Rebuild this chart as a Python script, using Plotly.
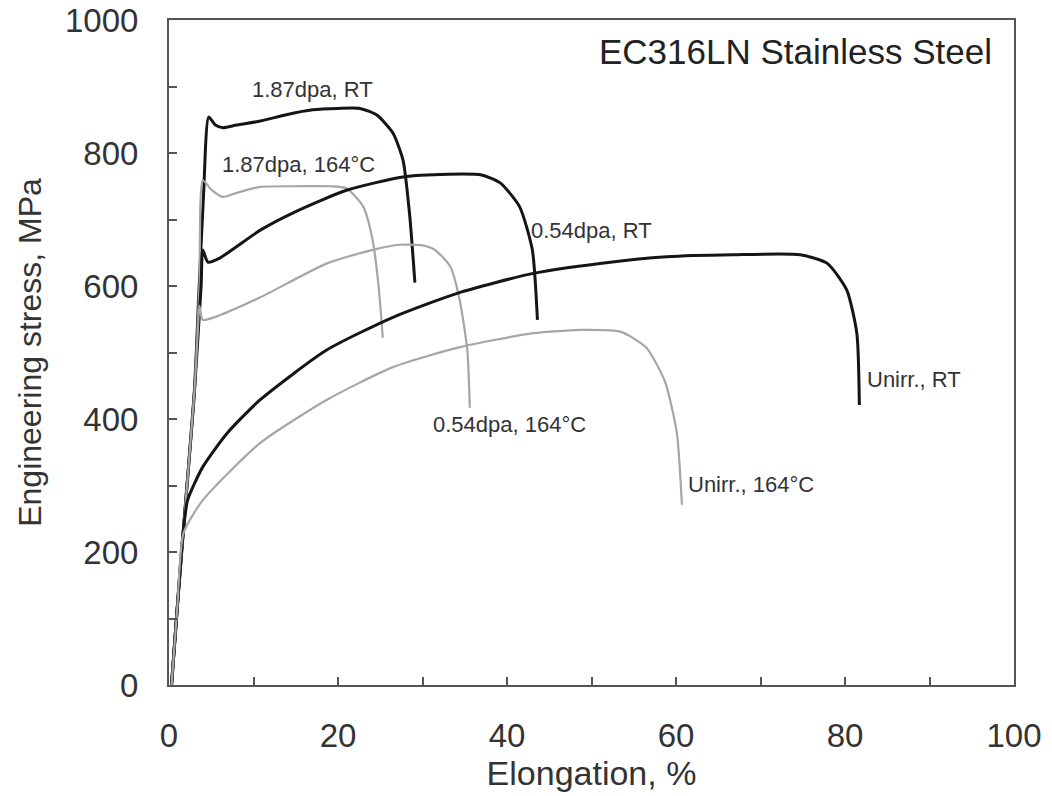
import plotly.graph_objects as go

# ---- data (elongation %, engineering stress MPa) ----
rt187_x = [0.3, 1.0, 2.0, 3.0, 3.5, 4.1, 4.7, 5.5, 6.4, 8.0, 10.8, 14.0, 17.0, 20.0, 22.6, 24.6, 26.5, 27.7, 28.5, 29.1]
rt187_y = [0, 120, 280, 440, 580, 740, 854, 842, 838, 842, 848, 858, 865, 867, 867, 857, 830, 789, 704, 605]

t187_x = [0.3, 1.0, 2.0, 3.0, 3.6, 4.0, 5.0, 6.4, 8.0, 10.8, 15.0, 19.0, 21.0, 23.0, 24.1, 24.8, 25.3]
t187_y = [0, 120, 280, 440, 600, 759, 745, 734, 740, 749, 750, 750, 747, 719, 669, 600, 522]

rt054_x = [0.3, 1.0, 2.0, 3.0, 3.8, 4.0, 4.6, 6.0, 10.8, 15.0, 21.0, 27.7, 33.0, 37.0, 39.2, 41.5, 43.0, 43.6]
rt054_y = [0, 120, 280, 440, 600, 654, 636, 642, 684, 712, 744, 764, 768, 767, 755, 719, 654, 549]

t054_x = [0.3, 1.0, 2.0, 3.0, 3.4, 3.6, 4.0, 6.0, 10.8, 18.7, 24.0, 27.3, 30.0, 31.5, 33.3, 34.4, 35.3, 35.6]
t054_y = [0, 120, 280, 440, 530, 570, 549, 556, 583, 634, 654, 662, 661, 654, 629, 579, 504, 417]

rtun_x = [0.3, 1.0, 1.6, 2.2, 4.0, 6.9, 10.8, 18.7, 26.5, 34.1, 43.1, 51.0, 58.9, 66.7, 74.7, 77.9, 80.2, 81.4, 81.7]
rtun_y = [0, 120, 220, 278, 328, 379, 429, 504, 553, 589, 619, 634, 644, 647, 647, 634, 594, 529, 421]

tun_x = [0.3, 1.0, 1.7, 4.0, 10.8, 18.7, 26.5, 34.4, 43.1, 49.0, 53.5, 56.5, 58.7, 60.1, 60.7]
tun_y = [0, 120, 228, 278, 364, 429, 478, 508, 529, 534, 531, 507, 456, 379, 271]

labels = ["1.87dpa, RT", "1.87dpa, 164°C", "0.54dpa, RT", "0.54dpa, 164°C", "Unirr., RT", "Unirr., 164°C"]
label_x = [17.0, 15.3, 42.6, 31.0, 82.4, 61.2]
label_y = [895, 782, 684, 391, 459, 301]
label_anchor = ["center", "center", "left", "left", "left", "left"]

x_ticks = [0, 20, 40, 60, 80, 100]
y_ticks = [0, 200, 400, 600, 800, 1000]

BLACK = "#151515"
GRAY = "#a6a6a6"
FONT = "Liberation Sans, Arial, sans-serif"

series = [
    (rt187_x, rt187_y, BLACK, 3),
    (t187_x, t187_y, GRAY, 2.2),
    (rt054_x, rt054_y, BLACK, 3),
    (t054_x, t054_y, GRAY, 2.2),
    (rtun_x, rtun_y, BLACK, 3),
    (tun_x, tun_y, GRAY, 2.2),
]

fig = go.Figure()
for (xs, ys, col, w), name in zip(series, labels):
    fig.add_trace(go.Scatter(x=xs, y=ys, mode="lines", name=name,
                             line=dict(color=col, width=w, shape="spline", smoothing=0.6),
                             showlegend=False))

for t, xv, yv, anc in zip(labels, label_x, label_y, label_anchor):
    fig.add_annotation(x=xv, y=yv, text=t, showarrow=False, xanchor=anc, yanchor="middle",
                       font=dict(family=FONT, size=22, color="#333333"))

fig.add_annotation(x=97.6, y=952, text="EC316LN Stainless Steel", showarrow=False,
                   xanchor="right", yanchor="middle",
                   font=dict(family=FONT, size=35, color="#222222"))

axis_common = dict(showline=True, linecolor="#555555", linewidth=2, mirror=True,
                   showgrid=False, zeroline=False, ticks="inside", ticklen=8,
                   tickwidth=1.5, tickcolor="#555555", automargin=False,
                   tickfont=dict(family=FONT, size=33, color="#333333"))

fig.update_xaxes(range=[0, 100], tickvals=x_ticks, ticklabelstandoff=20,
                 minor=dict(dtick=10, ticks="inside", ticklen=8, tickwidth=1.5, tickcolor="#555555"),
                 title=dict(text="Elongation, %", font=dict(family=FONT, size=34, color="#333333"), standoff=6),
                 **axis_common)
fig.update_yaxes(range=[0, 1000], tickvals=y_ticks, ticklabelstandoff=22,
                 minor=dict(dtick=100, ticks="inside", ticklen=8, tickwidth=1.5, tickcolor="#555555"),
                 title=dict(text="Engineering stress, MPa", font=dict(family=FONT, size=32, color="#333333"), standoff=14),
                 **axis_common)

fig.update_layout(width=1052, height=796, margin=dict(l=169, r=38, t=20, b=111, autoexpand=False),
                  plot_bgcolor="white", paper_bgcolor="white")

fig.write_html("out.html")
